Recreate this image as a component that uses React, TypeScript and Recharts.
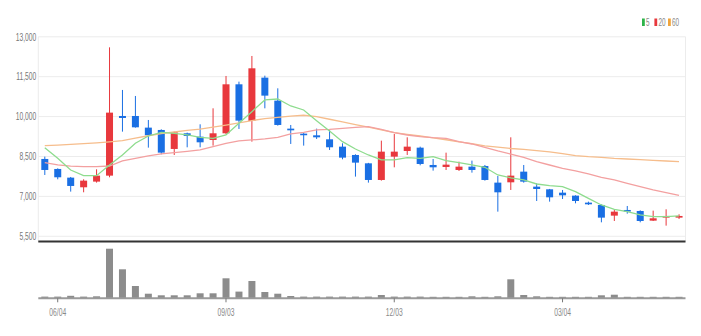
import React from 'react';
import { ComposedChart, Bar, Line, XAxis, YAxis, CartesianGrid, BarChart } from 'recharts';

const dates = ['05/28','06/04','06/11','06/18','06/25','07/02','07/09','07/16','07/23','07/30','08/06','08/13','08/20','08/27','09/03','09/10','09/17','09/24','10/01','10/08','10/15','10/22','10/29','11/05','11/12','11/19','11/26','12/03','12/10','12/17','12/24','12/31','01/07','01/14','01/21','01/28','02/04','02/11','02/18','02/25','03/04','03/11','03/18','03/25','04/01','04/08','04/15','04/22','04/29','05/06'];
const opens = [8407,8031,7705,7342,7555,7780,10023,10023,9585,9497,8783,9372,9246,9121,9372,11214,9835,11464,10600,9547,9359,9296,9146,8870,8557,8243,7617,8494,8707,8832,8181,8106,7993,8118,8143,7517,7529,7930,7366,7266,7140,7028,6765,6677,6276,6489,6451,6088,6201,6201];
const highs = [8495,8056,7730,7643,8018,12604,11001,10775,9873,9522,9434,9397,9710,10311,11527,11314,12279,11539,11063,9685,9380,9547,9497,8996,8582,8260,9095,9346,9221,8870,8406,8644,8306,8344,8181,7767,9221,8180,7491,7280,7241,7040,6802,6702,6489,6639,6476,6464,6514,6326];
const lows = [7805,7643,7179,7154,7517,7718,9434,9585,8833,8582,8557,8845,8845,8908,9334,9535,9058,10311,9660,8971,8908,9159,8745,8394,7743,7517,7592,8093,8557,8168,7968,7993,7955,7893,7592,6426,7241,7516,6827,6802,6902,6740,6677,6025,6075,6351,6025,6075,5900,6150];
const closes = [7993,7718,7392,7592,7780,10149,9948,9597,9297,8645,9409,9271,9033,9372,11214,9848,11815,10788,9685,9484,9309,9221,8846,8457,8269,7617,8682,8682,8870,8218,8093,8193,8118,7993,7617,7153,7780,7554,7278,6965,7040,6827,6702,6201,6426,6439,6075,6176,6264,6264];
const volumes = [17,17,25,17,20,496,290,123,46,30,30,30,50,50,200,67,173,63,46,23,17,17,17,17,17,17,33,17,17,17,15,15,15,20,15,20,190,33,20,15,15,15,15,30,36,15,15,15,15,15];
const ma5 = [8833,8432,7993,7780,7780,8181,8557,8996,9271,9409,9372,9309,9221,9184,9309,9748,10186,10625,10662,10399,10249,9848,9459,9058,8780,8557,8369,8369,8456,8431,8494,8344,8268,8181,8093,7805,7700,7617,7466,7404,7366,7178,6927,6677,6514,6426,6301,6238,6238,6264];
const ma20 = [8269,8181,8140,8118,8118,8143,8332,8432,8520,8595,8645,8695,8745,8870,8996,9084,9121,9159,9221,9347,9409,9497,9522,9560,9597,9622,9521,9396,9308,9246,9208,9183,9058,8970,8845,8707,8590,8469,8306,8180,8055,7955,7842,7717,7617,7491,7366,7241,7140,7040];
const ma60 = [8908,8930,8955,8980,9010,9050,9100,9190,9280,9360,9420,9480,9530,9600,9680,9760,9850,9920,9970,10020,10050,10000,9900,9800,9700,9600,9500,9400,9330,9270,9200,9130,9050,8980,8900,8850,8800,8770,8720,8670,8606,8531,8494,8469,8431,8406,8381,8356,8331,8306];

const xTicks = ['06/04','09/03','12/03','03/04'];
const yTicks = [5500,7000,8500,10000,11500,13000];
const legendItems = [
  { name: '5', color: '#2db34a' },
  { name: '20', color: '#e8383d' },
  { name: '60', color: '#f0a43a' },
];

const rows = dates.map((d, i) => ({
  date: d,
  open: opens[i], high: highs[i], low: lows[i], close: closes[i],
  range: [lows[i], highs[i]],
  volume: volumes[i],
  ma5: ma5[i], ma20: ma20[i], ma60: ma60[i],
}));

const RED = '#e8383d';
const BLUE = '#1a6fe3';
const FONT = '"Liberation Sans", Arial, sans-serif';

const Candle = (props: any) => {
  const { x, y, width, height, payload } = props;
  if (!payload || x == null) return null;
  const { open, close, high, low } = payload;
  const yTop = height < 0 ? y + height : y;
  const h = Math.abs(height);
  const ppu = h / (high - low || 1);
  const color = close >= open ? RED : BLUE;
  const top = yTop + (high - Math.max(open, close)) * ppu;
  const bot = yTop + (high - Math.min(open, close)) * ppu;
  const bh = Math.max(bot - top, 1.6);
  const cx = x + width / 2;
  return (
    <g>
      <line x1={cx} x2={cx} y1={yTop} y2={yTop + h} stroke={color} strokeWidth={1} />
      <rect x={x} y={top} width={width} height={bh} fill={color} />
    </g>
  );
};

const YTick = (p: any) => (
  <text transform={`translate(${p.x},${p.y}) scale(0.64,1)`} textAnchor="end" dy="0.36em" fontSize={10.5} fill="#777" fontFamily={FONT}>
    {Number(p.payload.value).toLocaleString('en-US')}
  </text>
);

const XTick = (p: any) => (
  <text transform={`translate(${p.x},${p.y + 13.5}) scale(0.64,1)`} textAnchor="middle" fontSize={10.5} fill="#888" fontFamily={FONT}>
    {p.payload.value}
  </text>
);

const LegendBox = () => {
  const xs = [0, 12.4, 26];
  return (
    <svg width={50} height={14} style={{ position: 'absolute', left: 642, top: 15 }}>
      {legendItems.map((it, i) => (
        <g key={it.name}>
          <rect x={xs[i]} y={3.5} width={2.8} height={7.5} fill={it.color} />
          <text transform={`translate(${xs[i] + 4},${10.6}) scale(0.64,1)`} fontSize={10} fill="#888" fontFamily={FONT}>{it.name}</text>
        </g>
      ))}
    </svg>
  );
};

export default function App() {
  return (
    <div style={{ position: 'absolute', left: 0, top: 0, width: 701, height: 336, background: '#fff' }}>
      <div style={{ position: 'absolute', left: 0, top: 0 }}>
        <ComposedChart width={701} height={243} data={rows} margin={{ top: 36.8, right: 15.5, left: 0, bottom: 0 }} barSize={7}>
          <CartesianGrid stroke="#ececec" strokeWidth={1} />
          <XAxis dataKey="date" ticks={xTicks} interval={0} height={1.4} tick={false} tickLine={false} axisLine={{ stroke: '#333', strokeWidth: 2 }} />
          <YAxis domain={[5300, 13000]} ticks={yTicks} interval={0} allowDataOverflow width={38.3} axisLine={false} tickLine={false} tickSize={0} tickMargin={2} tick={<YTick />} />
          <Line dataKey="ma60" stroke="#f6bd8c" strokeWidth={1.3} dot={false} isAnimationActive={false} />
          <Line dataKey="ma20" stroke="#f3a0a0" strokeWidth={1.3} dot={false} isAnimationActive={false} />
          <Line dataKey="ma5" stroke="#8edc8e" strokeWidth={1.3} dot={false} isAnimationActive={false} />
          <Bar dataKey="range" shape={<Candle />} isAnimationActive={false} />
        </ComposedChart>
      </div>
      <LegendBox />
      <div style={{ position: 'absolute', left: 0, top: 243 }}>
        <BarChart width={701} height={93} data={rows} margin={{ top: 0, right: 15.5, left: 38.3, bottom: 0 }} barSize={7}>
          <XAxis dataKey="date" ticks={xTicks} interval={0} height={37.7} tickSize={4} tickMargin={0} tickLine={{ stroke: '#777' }} axisLine={{ stroke: '#9a9a9a', strokeWidth: 2 }} tick={<XTick />} />
          <YAxis hide domain={[0, 553]} />
          <Bar dataKey="volume" fill="#8c8c8c" isAnimationActive={false} />
        </BarChart>
      </div>
    </div>
  );
}
